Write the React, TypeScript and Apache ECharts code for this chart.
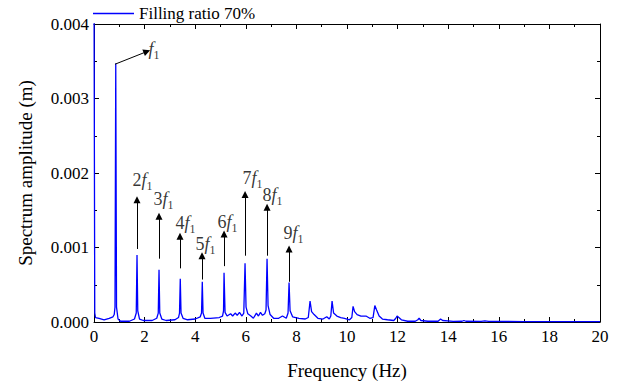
import React, { useEffect, useRef } from 'react';
import * as echarts from 'echarts';

const seriesName = 'Filling ratio 70%';

const frequencies = [
  0, 0.03, 0.06, 0.2, 0.4, 0.6, 0.75, 0.8, 0.83, 0.86, 0.89, 0.95, 1.05, 1.4, 1.6, 1.67, 1.7, 1.73, 1.8, 1.95,
  2.3, 2.48, 2.54, 2.57, 2.6, 2.68, 2.85, 3.2, 3.34, 3.38, 3.41, 3.44, 3.52, 3.7, 4.0, 4.2, 4.25, 4.28, 4.31, 4.38,
  4.6, 4.95, 5.08, 5.12, 5.14, 5.18, 5.26, 5.4, 5.48, 5.58, 5.66, 5.75, 5.85, 5.92, 5.97, 6.01, 6.08, 6.2, 6.3, 6.42,
  6.5, 6.58, 6.66, 6.75, 6.8, 6.84, 6.88, 6.96, 7.1, 7.3, 7.45, 7.6, 7.67, 7.71, 7.75, 7.85, 8.1, 8.35, 8.47, 8.54,
  8.6, 8.7, 8.85, 9.05, 9.2, 9.3, 9.36, 9.41, 9.47, 9.6, 9.75, 9.9, 10.1, 10.19, 10.24, 10.3, 10.4, 10.55, 10.75, 10.9,
  11.03, 11.1, 11.17, 11.27, 11.4, 11.6, 11.85, 11.93, 11.98, 12.05, 12.15, 12.4, 12.7, 12.8, 12.85, 12.92, 13.2, 13.6, 13.7, 13.78,
  14.2, 14.55, 14.62, 14.7, 15.3, 15.45, 15.6, 16.3, 17, 18, 19, 20,
];

const amplitudes = [
  0.0046, 0.00012, 0.00006, 0.00005, 0.00003, 0.00005, 0.00007, 0.0001, 0.0002, 0.00347, 0.0002, 0.00004, 0.00001, 0.00001, 0.00004, 0.00012, 0.0009, 0.00015, 0.00004, 0.00002,
  0.00002, 0.00005, 0.00012, 0.0007, 0.00012, 0.00004, 0.00002, 0.00003, 0.00006, 0.00012, 0.00058, 0.00012, 0.00005, 0.00003, 0.00004, 0.00007, 0.00012, 0.00054, 0.00012, 0.00005,
  0.00005, 0.00006, 0.00008, 0.00015, 0.00066, 0.00013, 0.00008, 0.00011, 0.00008, 0.00012, 0.00009, 0.00013, 0.00008, 0.00012, 0.00079, 0.0002, 0.00011, 0.00008, 0.00005, 0.00012,
  0.00008, 0.00013, 0.00009, 0.00011, 0.00016, 0.00085, 0.00022, 0.0001, 0.00005, 0.00005, 0.00008, 0.00005, 0.00012, 0.00053, 0.00015, 0.00007, 0.00005, 0.00004, 0.00006, 0.00028,
  0.00014, 0.0001, 0.00005, 0.00004, 0.00007, 0.00004, 0.00008, 0.00028, 0.00012, 0.00008, 0.00006, 0.00005, 0.00003, 0.00006, 0.00021, 0.00014, 0.0001, 0.00008, 0.00008, 0.00005,
  0.00006, 0.00022, 0.00016, 0.00008, 0.00004, 0.00003, 0.00002, 0.00005, 0.00008, 0.00006, 0.00003, 0.00001, 0.00001, 0.00003, 0.00005, 0.00002, 0.00001, 0.00001, 0.00004, 0.00002,
  0.000008, 0.00001, 0.00002, 0.00001, 0.000008, 0.000015, 0.000008, 0.000007, 0.000006, 0.000006, 0.000005, 0.000005,
];

// Annotations (data coordinates)
const harmonicOrders = ['2', '3', '4', '5', '6', '7', '8', '9'];
const harmonicFreqs = [1.7, 2.57, 3.4, 4.27, 5.14, 5.97, 6.84, 7.71];
const arrowTails = [0.00098, 0.00085, 0.00072, 0.00057, 0.00075, 0.00089, 0.00089, 0.00054];
const arrowTips = [0.00164, 0.00142, 0.00115, 0.00089, 0.00118, 0.00171, 0.00154, 0.00098];
const labelXs = [1.5, 2.33, 3.2, 3.99, 4.86, 5.85, 6.64, 7.47];
const labelYs = [0.00191, 0.00165, 0.00133, 0.00105, 0.00134, 0.00193, 0.0017, 0.00119];

const f1Tail = [0.83, 0.00346];
const f1Tip = [2.09, 0.00363];
const f1Label = [2.13, 0.00366];

const FONT = 'Liberation Serif';

export default function App() {
  const ref = useRef<HTMLDivElement>(null);

  useEffect(() => {
    document.body.style.margin = '0';
    if (!ref.current) return;
    const chart = echarts.init(ref.current, undefined, { renderer: 'svg' });

    const lineData = frequencies.map((f, i) => [f, amplitudes[i]]);

    const labelData: any[] = harmonicOrders.map((o, i) => ({
      value: [labelXs[i], labelYs[i]],
      label: { formatter: `{n|${o}}{f|f}{s|1}` },
    }));
    labelData.push({ value: f1Label, label: { formatter: '{f|f}{s|1}' } });

    const arrows: any[] = harmonicFreqs.map((f, i) => [
      { coord: [f, arrowTails[i]] },
      { coord: [f, arrowTips[i]] },
    ]);
    arrows.push([{ coord: f1Tail }, { coord: f1Tip }]);

    const axisCommon = {
      axisLine: { show: true, onZero: false, lineStyle: { color: '#000', width: 1 } },
      axisTick: { show: true, inside: true, length: 5, lineStyle: { color: '#000' } },
      minorTick: { show: true, splitNumber: 2, length: 3, lineStyle: { color: '#000' } },
      splitLine: { show: false },
      minorSplitLine: { show: false },
    };

    chart.setOption({
      animation: false,
      backgroundColor: '#fff',
      textStyle: { fontFamily: FONT },
      legend: {
        data: [{ name: seriesName, icon: 'rect' }],
        left: 93,
        top: 5,
        padding: 0,
        itemWidth: 41,
        itemHeight: 1.6,
        textStyle: { fontFamily: FONT, fontSize: 17, color: '#000' },
      },
      grid: { left: 94, right: 20, top: 24, bottom: 59, containLabel: false },
      xAxis: [
        {
          type: 'value',
          min: 0,
          max: 20,
          interval: 2,
          position: 'bottom',
          name: 'Frequency (Hz)',
          nameLocation: 'middle',
          nameGap: 39,
          nameTextStyle: { fontFamily: FONT, fontSize: 19, color: '#000' },
          axisLabel: { fontFamily: FONT, fontSize: 17, color: '#000', margin: 6 },
          ...axisCommon,
        },
        {
          type: 'value',
          min: 0,
          max: 20,
          interval: 2,
          position: 'top',
          axisLabel: { show: false },
          ...axisCommon,
        },
      ],
      yAxis: [
        {
          type: 'value',
          min: 0,
          max: 0.004,
          interval: 0.001,
          position: 'left',
          name: 'Spectrum amplitude (m)',
          nameLocation: 'middle',
          nameGap: 59,
          nameTextStyle: { fontFamily: FONT, fontSize: 19, color: '#000' },
          axisLabel: {
            fontFamily: FONT,
            fontSize: 17,
            color: '#000',
            margin: 5,
            formatter: (v: number) => v.toFixed(3),
          },
          ...axisCommon,
        },
        {
          type: 'value',
          min: 0,
          max: 0.004,
          interval: 0.001,
          position: 'right',
          axisLabel: { show: false },
          ...axisCommon,
        },
      ],
      series: [
        {
          name: seriesName,
          type: 'line',
          data: lineData,
          symbol: 'none',
          showSymbol: false,
          clip: true,
          silent: true,
          lineStyle: { color: '#0000ff', width: 1.3 },
          itemStyle: { color: '#0000ff' },
        },
        {
          name: 'annotations',
          type: 'scatter',
          data: labelData,
          symbol: 'circle',
          symbolSize: 1,
          silent: true,
          itemStyle: { color: 'rgba(0,0,0,0)' },
          label: {
            show: true,
            position: 'right',
            distance: 0,
            color: '#000',
            rich: {
              n: { fontFamily: FONT, fontSize: 18, lineHeight: 22, color: '#000' },
              f: { fontFamily: FONT, fontSize: 18, fontStyle: 'italic', lineHeight: 22, color: '#000' },
              s: { fontFamily: FONT, fontSize: 12, lineHeight: 24, verticalAlign: 'bottom', color: '#000' },
            },
          },
          markLine: {
            silent: true,
            symbol: ['none', 'triangle'],
            symbolSize: 7,
            label: { show: false },
            lineStyle: { color: '#000', width: 1, type: 'solid' },
            data: arrows,
          },
        },
      ],
    });

    return () => chart.dispose();
  }, []);

  return <div ref={ref} style={{ width: 620, height: 385 }} />;
}
